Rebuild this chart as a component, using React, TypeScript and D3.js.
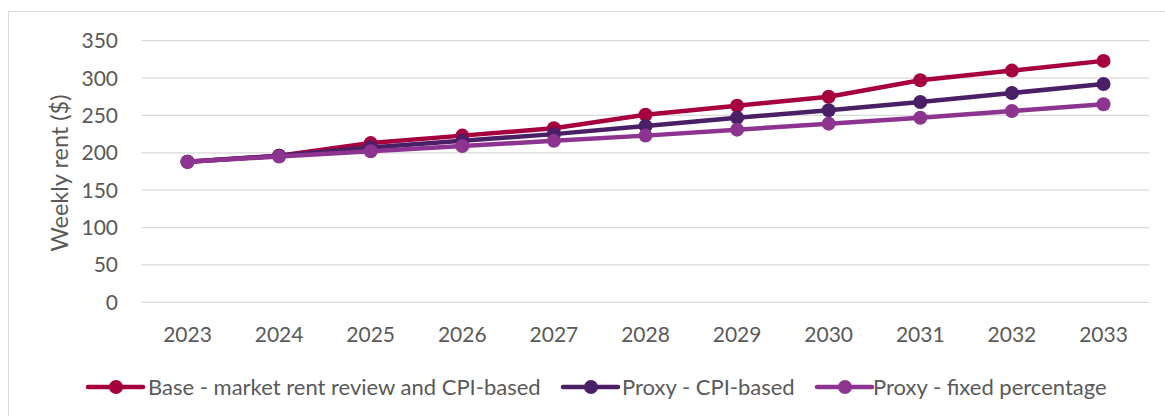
import React from "react";
import * as d3 from "d3";

const years = ["2023","2024","2025","2026","2027","2028","2029","2030","2031","2032","2033"];
const baseMarket = [188, 196, 213, 223, 233, 251, 263, 275, 297, 310, 323];
const proxyCPI = [188, 196, 207, 216, 225, 236, 247, 257, 268, 280, 292];
const proxyFixed = [188, 195, 202, 209, 216, 223, 231, 239, 247, 256, 265];
const yTicks = [0, 50, 100, 150, 200, 250, 300, 350];

const seriesNames = [
  "Base - market rent review and CPI-based",
  "Proxy - CPI-based",
  "Proxy - fixed percentage",
];
const seriesColors = ["#A6003F", "#4A1F66", "#8C348F"];
const seriesValues = [baseMarket, proxyCPI, proxyFixed];

const W = 1165, H = 416;
const FONT = "Lato, 'Open Sans', sans-serif";
const TXT = "#595959";

export default function App() {
  const left = 141.7, right = 1149.3, top = 40.7, bottom = 302.3;
  const x = d3.scaleBand<string>().domain(years).range([left, right]);
  const y = d3.scaleLinear().domain([0, 350]).range([bottom, top]);
  const cx = (yr: string) => (x(yr) as number) + x.bandwidth() / 2;
  const line = d3.line<number>().x((_, i) => cx(years[i])).y((v) => y(v));

  const legendItems = [
    { lx: 88, tx: 148 },
    { lx: 563, tx: 622 },
    { lx: 817, tx: 873 },
  ];
  const ly = 387;

  return (
    <svg width={W} height={H} style={{ position: "absolute", left: 0, top: 0, display: "block", background: "#fff" }}>
      <rect x={8.5} y={11.5} width={1170} height={420} fill="#fff" stroke="#D9D9D9" strokeWidth={1} />
      {yTicks.map((t) => (
        <g key={t}>
          <line x1={left} x2={right} y1={y(t)} y2={y(t)} stroke="#D9D9D9" strokeWidth={1.3} />
          <text x={118} y={y(t)} dy="0.36em" textAnchor="end" fontFamily={FONT} fontSize={21} fill={TXT}>{t}</text>
        </g>
      ))}
      {years.map((yr) => (
        <text key={yr} x={cx(yr)} y={334} dy="0.36em" textAnchor="middle" fontFamily={FONT} fontSize={21} fill={TXT}>{yr}</text>
      ))}
      <text transform={`translate(60,173) rotate(-90)`} textAnchor="middle" dy="0.36em" fontFamily={FONT} fontSize={23.5} fill={TXT}>Weekly rent ($)</text>
      {seriesValues.map((vals, si) => (
        <g key={si}>
          <path d={line(vals) as string} fill="none" stroke={seriesColors[si]} strokeWidth={4.5} strokeLinejoin="round" />
          {vals.map((v, i) => (
            <circle key={i} cx={cx(years[i])} cy={y(v)} r={7} fill={seriesColors[si]} />
          ))}
        </g>
      ))}
      {legendItems.map((it, si) => (
        <g key={si}>
          <line x1={it.lx} x2={it.lx + 55} y1={ly} y2={ly} stroke={seriesColors[si]} strokeWidth={4.5} strokeLinecap="round" />
          <circle cx={it.lx + 28} cy={ly} r={7} fill={seriesColors[si]} />
          <text x={it.tx} y={ly} dy="0.36em" fontFamily={FONT} fontSize={22} fill={TXT}>{seriesNames[si]}</text>
        </g>
      ))}
    </svg>
  );
}
